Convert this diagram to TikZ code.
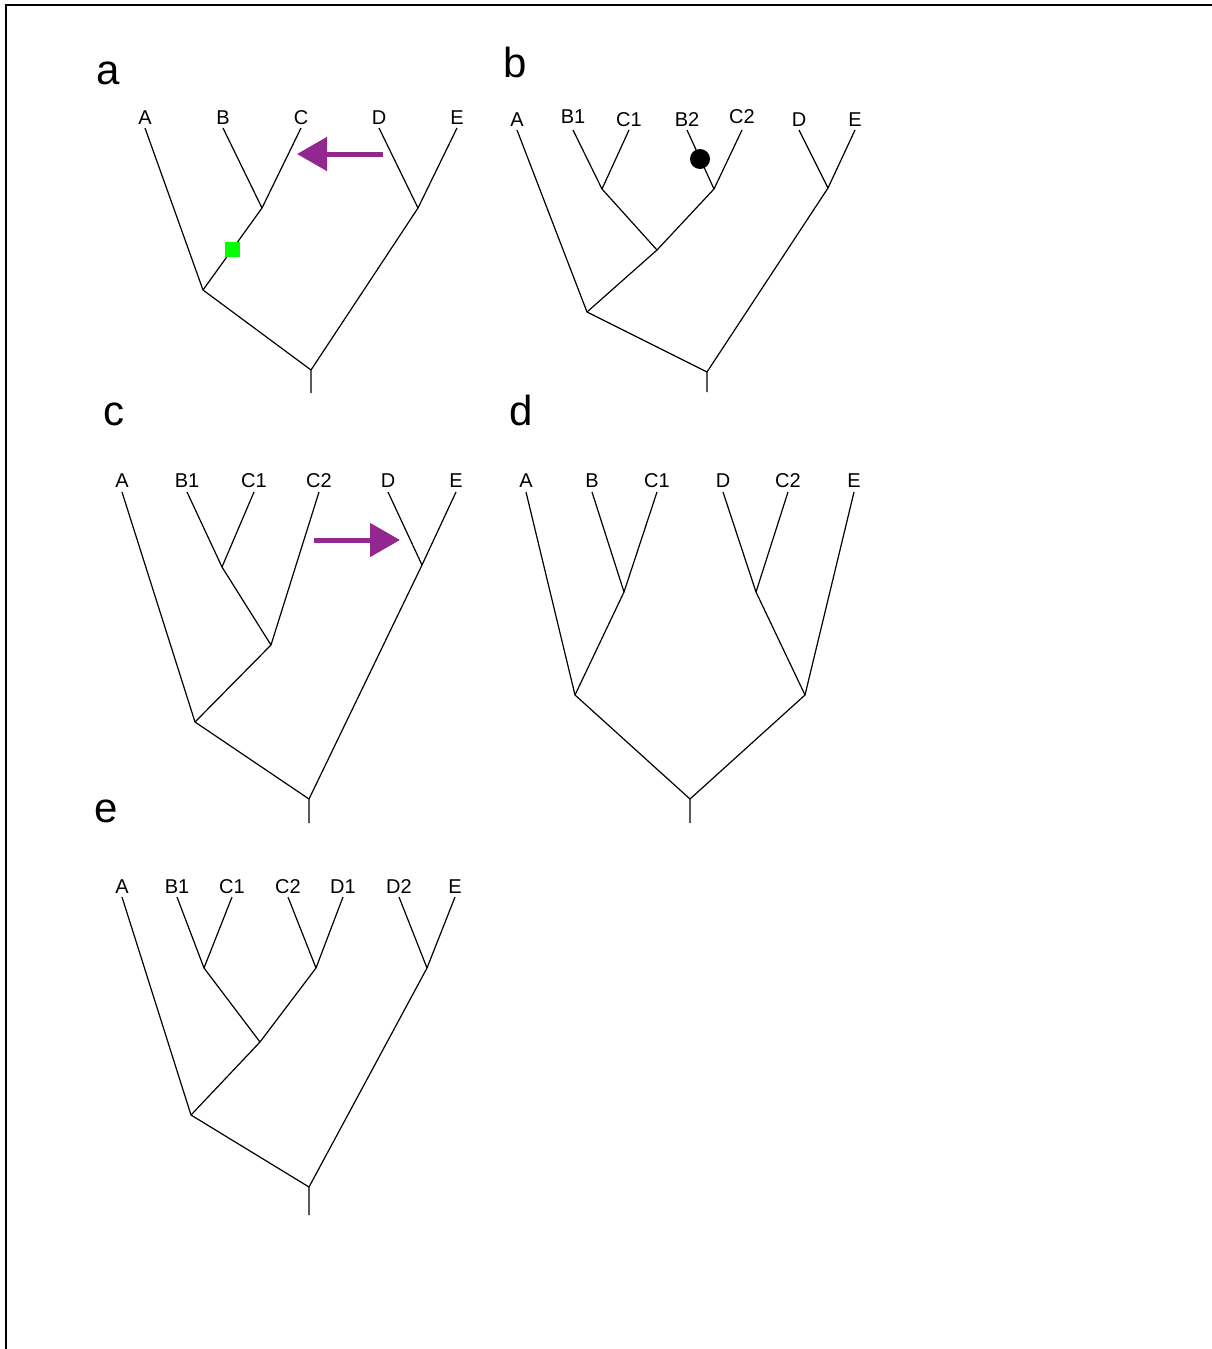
\documentclass[tikz,border=0pt]{standalone}
\usepackage{fontspec}
\setmainfont{Liberation Sans}
\usetikzlibrary{arrows.meta}
\definecolor{movecol}{HTML}{92278F}

\begin{document}
\begin{tikzpicture}[x=1pt, y=-1pt,
    branch/.style = {line width=1.2pt, line join=round},
    leaf/.style = {anchor=base, inner sep=0pt, font=\fontsize{20}{20}\selectfont},
    panel/.style = {anchor=base, inner sep=0pt, font=\fontsize{42}{42}\selectfont},
    move/.style = {line width=5pt, draw=movecol, -{Triangle[length=30pt,width=33pt,fill=movecol]}}]

    \useasboundingbox (0,0) rectangle (1212,1349);
    \draw[line width=2.2pt] (1212,5) -- (6,5) -- (6,1349);

    % panel a
    \node[panel] (pa) at (108,84) {a};
    \foreach \n/\x in {A/145,B/223,C/301,D/379,E/457} {
        \coordinate (a\n-t) at (\x,128);
        \node[leaf] (a\n) at (\x,124) {\n};
    }
    \coordinate (aBC) at (262,208);
    \coordinate (aABC) at (203,290);
    \coordinate (aDE) at (418,208);
    \coordinate (aR) at (311,370);
    \coordinate (aS) at (311,393);
    \draw[branch] (aA-t) -- (aABC) -- (aR) -- (aS);
    \draw[branch] (aB-t) -- (aBC) -- (aABC);
    \draw[branch] (aC-t) -- (aBC);
    \draw[branch] (aD-t) -- (aDE) -- (aR);
    \draw[branch] (aE-t) -- (aDE);
    \node[fill=green, minimum size=15pt, inner sep=0pt] (aMark) at (232,249) {};
    \coordinate (aMvS) at (383,154);
    \coordinate (aMvE) at (297,154);
    \draw[move] (aMvS) -- (aMvE);

    % panel b
    \node[panel] (pb) at (515,77) {b};
    \foreach \n/\x/\y in {A/517/126,B1/573/123,C1/629/126,B2/687/126,C2/742/123,D/799/126,E/855/126} {
        \coordinate (b\n-t) at (\x,130);
        \node[leaf] (b\n) at (\x,\y) {\n};
    }
    \coordinate (bBC1) at (602,189);
    \coordinate (bBC2) at (714,189);
    \coordinate (bBC) at (657,250);
    \coordinate (bABC) at (587,312);
    \coordinate (bDE) at (828,188);
    \coordinate (bR) at (707,372);
    \coordinate (bS) at (707,392);
    \draw[branch] (bA-t) -- (bABC) -- (bR) -- (bS);
    \draw[branch] (bB1-t) -- (bBC1) -- (bBC) -- (bABC);
    \draw[branch] (bC1-t) -- (bBC1);
    \draw[branch] (bB2-t) -- (bBC2) -- (bBC);
    \draw[branch] (bC2-t) -- (bBC2);
    \draw[branch] (bD-t) -- (bDE) -- (bR);
    \draw[branch] (bE-t) -- (bDE);
    \node[circle, fill=black, minimum size=20pt, inner sep=0pt] (bDot) at (700,159) {};

    % panel c
    \node[panel] (pc) at (114,425) {c};
    \foreach \n/\x in {A/122,B1/187,C1/254,C2/319,D/388,E/456} {
        \coordinate (c\n-t) at (\x,492);
        \node[leaf] (c\n) at (\x,487) {\n};
    }
    \coordinate (cBC1) at (222,567);
    \coordinate (cBC) at (271,645);
    \coordinate (cABC) at (195,722);
    \coordinate (cDE) at (422,565);
    \coordinate (cR) at (309,799);
    \coordinate (cS) at (309,823);
    \draw[branch] (cA-t) -- (cABC) -- (cR) -- (cS);
    \draw[branch] (cB1-t) -- (cBC1) -- (cBC) -- (cABC);
    \draw[branch] (cC1-t) -- (cBC1);
    \draw[branch] (cC2-t) -- (cBC);
    \draw[branch] (cD-t) -- (cDE) -- (cR);
    \draw[branch] (cE-t) -- (cDE);
    \coordinate (cMvS) at (314,540);
    \coordinate (cMvE) at (400,540);
    \draw[move] (cMvS) -- (cMvE);

    % panel d
    \node[panel] (pd) at (521,425) {d};
    \foreach \n/\x in {A/526,B/592,C1/657,D/723,C2/788,E/854} {
        \coordinate (d\n-t) at (\x,492);
        \node[leaf] (d\n) at (\x,487) {\n};
    }
    \coordinate (dBC) at (624,592);
    \coordinate (dABC) at (575,695);
    \coordinate (dDC) at (756,592);
    \coordinate (dDCE) at (805,695);
    \coordinate (dR) at (690,799);
    \coordinate (dS) at (690,823);
    \draw[branch] (dA-t) -- (dABC) -- (dR) -- (dS);
    \draw[branch] (dB-t) -- (dBC) -- (dABC);
    \draw[branch] (dC1-t) -- (dBC);
    \draw[branch] (dD-t) -- (dDC) -- (dDCE) -- (dR);
    \draw[branch] (dC2-t) -- (dDC);
    \draw[branch] (dE-t) -- (dDCE);

    % panel e
    \node[panel] (pe) at (106,822) {e};
    \foreach \n/\x in {A/122,B1/177,C1/232,C2/288,D1/343,D2/399,E/455} {
        \coordinate (e\n-t) at (\x,897);
        \node[leaf] (e\n) at (\x,893) {\n};
    }
    \coordinate (eBC) at (204,968);
    \coordinate (eCD) at (316,968);
    \coordinate (eBCD) at (260,1042);
    \coordinate (eABCD) at (191,1115);
    \coordinate (eDE) at (427,968);
    \coordinate (eR) at (309,1187);
    \coordinate (eS) at (309,1215);
    \draw[branch] (eA-t) -- (eABCD) -- (eR) -- (eS);
    \draw[branch] (eB1-t) -- (eBC) -- (eBCD) -- (eABCD);
    \draw[branch] (eC1-t) -- (eBC);
    \draw[branch] (eC2-t) -- (eCD) -- (eBCD);
    \draw[branch] (eD1-t) -- (eCD);
    \draw[branch] (eD2-t) -- (eDE) -- (eR);
    \draw[branch] (eE-t) -- (eDE);

\end{tikzpicture}
\end{document}
